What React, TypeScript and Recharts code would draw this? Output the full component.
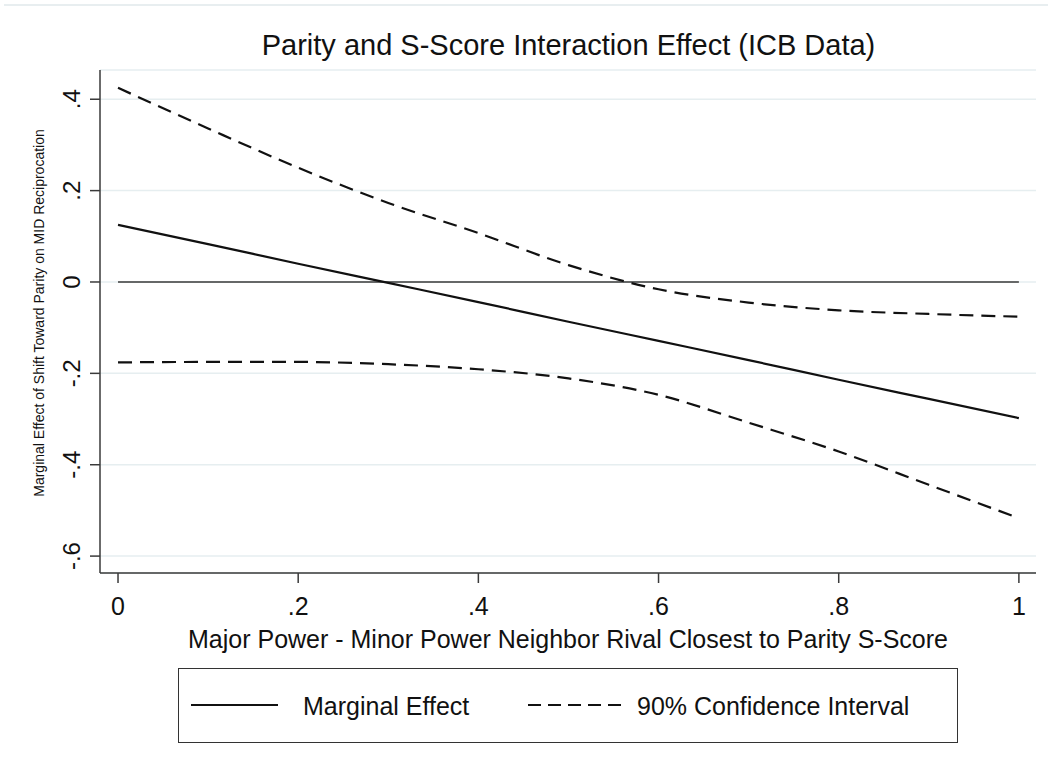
import React from 'react';
import {
  LineChart,
  Line,
  XAxis,
  YAxis,
  CartesianGrid,
  ReferenceLine,
} from 'recharts';

// values
const xValues = [0, 0.1, 0.2, 0.3, 0.4, 0.5, 0.6, 0.7, 0.8, 0.9, 1];
const marginalEffect = [0.125, 0.083, 0.04, -0.002, -0.044, -0.087, -0.129, -0.171, -0.214, -0.256, -0.298];
const upperCI = [0.425, 0.336, 0.25, 0.173, 0.107, 0.037, -0.016, -0.045, -0.062, -0.07, -0.076];
const lowerCI = [-0.176, -0.175, -0.175, -0.18, -0.191, -0.211, -0.247, -0.308, -0.371, -0.444, -0.517];

const xTicks = [0, 0.2, 0.4, 0.6, 0.8, 1];
const yTicks = [-0.6, -0.4, -0.2, 0, 0.2, 0.4];

const seriesNames = ['Marginal Effect', '90% Confidence Interval'];

const chartTitle = 'Parity and S-Score Interaction Effect (ICB Data)';
const xTitle = 'Major Power - Minor Power Neighbor Rival Closest to Parity S-Score';
const yTitle = 'Marginal Effect of Shift Toward Parity on MID Reciprocation';

const data = xValues.map((x, i) => ({
  x,
  me: marginalEffect[i],
  hi: upperCI[i],
  lo: lowerCI[i],
}));

const FONT = '"Liberation Sans", Arial, sans-serif';
const INK = '#111';
const AXIS = '#3a3a3a';
const DASH = '14 8';

// Stata style: drop the leading zero ("0.2" -> ".2")
const fmt = (v: number) => {
  if (v === 0) return '0';
  const s = String(Math.round(v * 10) / 10);
  return s.replace('0.', '.');
};

const XTick = (props: any) => {
  const { x, y, payload } = props;
  return (
    <text x={x} y={y + 30} textAnchor="middle" fontFamily={FONT} fontSize={25} fill={INK}>
      {fmt(payload.value)}
    </text>
  );
};

const YTick = (props: any) => {
  const { x, y, payload } = props;
  const bx = x - 7.5;
  return (
    <text
      x={bx}
      y={y}
      transform={`rotate(-90 ${bx} ${y})`}
      textAnchor="middle"
      fontFamily={FONT}
      fontSize={24}
      fill={INK}
    >
      {fmt(payload.value)}
    </text>
  );
};

function LegendBox() {
  return (
    <div
      style={{
        position: 'absolute',
        left: 178,
        top: 668,
        width: 780,
        height: 75,
        boxSizing: 'border-box',
        border: '1.5px solid #333',
        fontFamily: FONT,
        fontSize: 25,
        color: INK,
      }}
    >
      <svg width={780} height={75} style={{ position: 'absolute', left: 0, top: 0 }}>
        <line x1={12} x2={99} y1={36} y2={36} stroke={INK} strokeWidth={2.2} />
        <line x1={349} x2={443} y1={36} y2={36} stroke={INK} strokeWidth={2.2} strokeDasharray="13 7" />
        <text x={124} y={46} fontFamily={FONT} fontSize={25} fill={INK}>
          {seriesNames[0]}
        </text>
        <text x={458} y={46} fontFamily={FONT} fontSize={25} fill={INK}>
          {seriesNames[1]}
        </text>
      </svg>
    </div>
  );
}

export default function App() {
  return (
    <div
      style={{
        position: 'absolute',
        left: 0,
        top: 0,
        width: 1048,
        height: 766,
        background: '#fff',
        overflow: 'hidden',
      }}
    >
      <div
        style={{
          position: 'absolute',
          left: 4,
          right: 0,
          top: 4,
          height: 2,
          background: '#e8eef0',
        }}
      />
      <div
        style={{
          position: 'absolute',
          left: 0,
          width: 1137,
          top: 29,
          textAlign: 'center',
          fontFamily: FONT,
          fontSize: 29,
          color: INK,
          whiteSpace: 'nowrap',
        }}
      >
        {chartTitle}
      </div>
      <LineChart
        width={1048}
        height={766}
        data={data}
        margin={{ top: 70, right: 12, bottom: 133, left: 0 }}
      >
        <CartesianGrid vertical={false} stroke="#e6eef0" strokeWidth={1.5} />
        <XAxis
          dataKey="x"
          type="number"
          domain={[-0.02, 1.019]}
          ticks={xTicks}
          allowDataOverflow
          height={60}
          tickSize={10}
          axisLine={{ stroke: AXIS, strokeWidth: 1.5 }}
          tickLine={{ stroke: AXIS, strokeWidth: 1.5 }}
          tick={<XTick />}
          label={{
            content: () => (
              <text x={568} y={648} textAnchor="middle" fontFamily={FONT} fontSize={25} fill={INK}>
                {xTitle}
              </text>
            ),
          }}
        />
        <YAxis
          type="number"
          domain={[-0.637, 0.464]}
          ticks={yTicks}
          allowDataOverflow
          width={100}
          tickSize={10}
          axisLine={{ stroke: AXIS, strokeWidth: 1.5 }}
          tickLine={{ stroke: AXIS, strokeWidth: 1.5 }}
          tick={<YTick />}
          label={{
            content: () => (
              <text
                x={44}
                y={313}
                transform="rotate(-90 44 313)"
                textAnchor="middle"
                fontFamily={FONT}
                fontSize={14}
                fill={INK}
              >
                {yTitle}
              </text>
            ),
          }}
        />
        <ReferenceLine
          segment={[
            { x: 0, y: 0 },
            { x: 1, y: 0 },
          ]}
          stroke="#3a3a3a"
          strokeWidth={1.5}
        />
        <Line
          type="monotone"
          dataKey="hi"
          name={seriesNames[1]}
          stroke={INK}
          strokeWidth={2.2}
          strokeDasharray={DASH}
          dot={false}
          isAnimationActive={false}
        />
        <Line
          type="monotone"
          dataKey="lo"
          name={seriesNames[1]}
          stroke={INK}
          strokeWidth={2.2}
          strokeDasharray={DASH}
          dot={false}
          isAnimationActive={false}
        />
        <Line
          type="monotone"
          dataKey="me"
          name={seriesNames[0]}
          stroke={INK}
          strokeWidth={2.2}
          dot={false}
          isAnimationActive={false}
        />
      </LineChart>
      <LegendBox />
    </div>
  );
}
